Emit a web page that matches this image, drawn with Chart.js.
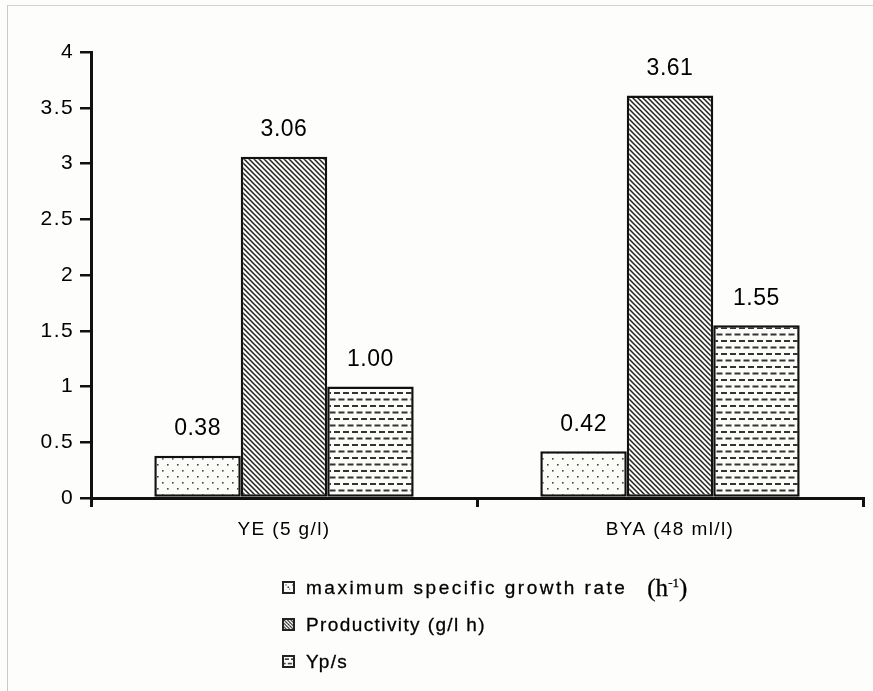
<!DOCTYPE html>
<html>
<head>
<meta charset="utf-8">
<script src="https://cdn.jsdelivr.net/npm/chart.js@4"></script>
<style>
  html, body { margin: 0; padding: 0; background: #fdfdfc; }
  #wrap { position: relative; width: 873px; height: 691px; overflow: hidden; }
  #frame { position: absolute; left: 7px; top: 5px; width: 880px; height: 700px;
           border-left: 1px solid #c8c8c8; border-top: 1px solid #d0d0d0; }
  #legend { position: absolute; left: 282px; top: 569px; font-family: "Liberation Sans", Arial, sans-serif;
            font-size: 19px; color: #000; letter-spacing: 1.4px; -webkit-text-stroke: 0.3px #000; }
  .item { height: 37px; display: flex; align-items: center; }
  .item canvas { width: 13px; height: 13px; border: 2px solid #222; margin-right: 11px; box-sizing: border-box; }
  .unit { font-family: "Liberation Serif", "Times New Roman", serif; font-size: 25px; margin-left: 20px; letter-spacing: 0; }
  .unit sup { font-size: 13px; }
</style>
</head>
<body>
<div id="wrap">
  <div id="frame"></div>
  <canvas id="chart" width="873" height="691"></canvas>
  <div id="legend">
    <div class="item"><canvas id="sw0" width="13" height="13"></canvas><span style="letter-spacing:2.5px">maximum specific growth rate</span><span class="unit">(h<sup>-1</sup>)</span></div>
    <div class="item"><canvas id="sw1" width="13" height="13"></canvas><span>Productivity (g/l h)</span></div>
    <div class="item"><canvas id="sw2" width="13" height="13"></canvas><span>Yp/s</span></div>
  </div>
</div>
<script>
// data
const categories = ['YE (5 g/l)', 'BYA (48 ml/l)'];
const seriesNames = ['maximum specific growth rate (h-1)', 'Productivity (g/l h)', 'Yp/s'];
const growthRate = [0.38, 0.42];
const productivity = [3.06, 3.61];
const yieldPS = [1.00, 1.55];

// fill patterns
function makeCanvas(w, h) {
    const c = document.createElement('canvas');
    c.width = w; c.height = h;
    const g = c.getContext('2d');
    g.fillStyle = '#fbfbf8';
    g.fillRect(0, 0, w, h);
    return [c, g];
}

function dotPattern(ctx) {
    const [c, g] = makeCanvas(10, 12);
    g.fillStyle = '#444';
    g.fillRect(2, 2, 1.6, 1.6);
    g.fillRect(7, 8, 1.6, 1.6);
    return ctx.createPattern(c, 'repeat');
}

function diagPattern(ctx) {
    const [c, g] = makeCanvas(5, 5);
    g.strokeStyle = '#222';
    g.lineWidth = 1.5;
    g.beginPath();
    g.moveTo(-1, -1); g.lineTo(6, 6);
    g.moveTo(-1, 4); g.lineTo(1, 6);
    g.moveTo(4, -1); g.lineTo(6, 1);
    g.stroke();
    return ctx.createPattern(c, 'repeat');
}

function dashPattern(ctx) {
    const [c, g] = makeCanvas(9, 13);
    g.fillStyle = '#333';
    g.fillRect(1, 2, 6, 2);
    g.fillRect(5.5, 8.5, 3.5, 2);
    g.fillRect(0, 8.5, 2.5, 2);
    return ctx.createPattern(c, 'repeat');
}

const ctx = document.getElementById('chart').getContext('2d');
const patterns = [dotPattern(ctx), diagPattern(ctx), dashPattern(ctx)];

// swatches in the html legend
['sw0', 'sw1', 'sw2'].forEach((id, i) => {
    const s = document.getElementById(id).getContext('2d');
    const makers = [dotPattern, diagPattern, dashPattern];
    s.fillStyle = makers[i](s);
    s.fillRect(0, 0, 13, 13);
    if (i === 0) { s.fillStyle = '#333'; s.fillRect(5, 5, 2, 2); }
});

// wider letter spacing for the axis texts, like the scanned figure
const spacing = {
    id: 'spacing',
    beforeDraw(chart) { chart.ctx.letterSpacing = '1.4px'; },
    afterDraw(chart) { chart.ctx.letterSpacing = '0px'; }
};

// value labels above each bar
const barLabels = {
    id: 'barLabels',
    afterDatasetsDraw(chart) {
        const c = chart.ctx;
        c.save();
        c.letterSpacing = '0.5px';
        c.font = '23px "Liberation Sans", Arial, sans-serif';
        c.fillStyle = '#000';
        c.textAlign = 'center';
        c.textBaseline = 'middle';
        chart.data.datasets.forEach((ds, i) => {
            chart.getDatasetMeta(i).data.forEach((bar, j) => {
                c.fillText(ds.data[j].toFixed(2), bar.x, bar.y - 27);
            });
        });
        c.restore();
    }
};

new Chart(ctx, {
    type: 'bar',
    data: {
        labels: categories,
        datasets: [growthRate, productivity, yieldPS].map((d, i) => ({
            label: seriesNames[i],
            data: d,
            backgroundColor: patterns[i],
            borderColor: '#111',
            borderWidth: 2.5,
            borderSkipped: false,
            categoryPercentage: 0.672,
            barPercentage: 1.0
        }))
    },
    options: {
        responsive: false,
        animation: false,
        layout: { padding: { left: 0, right: 10, top: 52, bottom: 133 } },
        plugins: {
            legend: { display: false },
            tooltip: { enabled: false }
        },
        scales: {
            x: {
                afterFit: s => { s.height = 60; },
                border: { color: '#111', width: 3 },
                grid: { drawOnChartArea: false, color: '#111', lineWidth: 3, tickLength: 9, offset: true },
                ticks: { color: '#000', font: { family: 'Liberation Sans', size: 19 }, padding: 11 }
            },
            y: {
                min: 0,
                max: 4,
                afterFit: s => { s.width = 91; },
                border: { color: '#111', width: 3 },
                grid: { drawOnChartArea: false, color: '#111', lineWidth: 2.5, tickLength: 11 },
                ticks: {
                    stepSize: 0.5,
                    color: '#000',
                    font: { family: 'Liberation Sans', size: 21 },
                    padding: 6,
                    callback: v => String(Math.round(v * 10) / 10)
                }
            }
        }
    },
    plugins: [spacing, barLabels]
});
</script>
</body>
</html>
